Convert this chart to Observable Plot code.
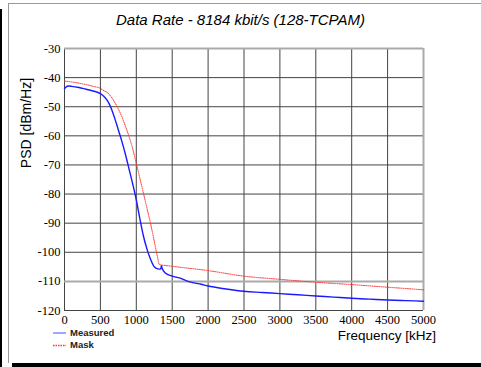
<!DOCTYPE html>
<html>
<head>
<meta charset="utf-8">
<script src="https://cdn.jsdelivr.net/npm/d3@7"></script>
<script src="https://cdn.jsdelivr.net/npm/@observablehq/plot@0.6"></script>
<style>
  html, body { margin: 0; padding: 0; background: #fff; }
  #wrap { position: relative; width: 481px; height: 367px; overflow: hidden; background: #fff; }
  .abs { position: absolute; white-space: nowrap; font-family: "Liberation Sans", Arial, sans-serif; color: #000; }
  #chart { position: absolute; left: 0; top: 0; }
  #chart svg text { font-family: "Liberation Serif", "Times New Roman", serif; }
</style>
</head>
<body>
<div id="wrap">
  <div class="abs" style="left:0;top:9px;width:2px;height:358px;background:#000"></div>
  <div class="abs" style="left:12px;top:363px;width:469px;height:4px;background:#000"></div>
  <div class="abs" style="left:8px;top:3px;width:480px;height:359px;border-left:1px solid #999;border-top:1px solid #999;"></div>
  <div id="chart"></div>
  <div class="abs" style="left:0;width:481px;top:11px;text-align:center;font-size:15px;font-style:italic;">Data Rate - 8184 kbit/s (128-TCPAM)</div>
  <div class="abs" style="left:26px;top:123px;font-size:14px;transform:translate(-50%,-50%) rotate(-90deg);">PSD [dBm/Hz]</div>
  <div class="abs" style="right:45px;top:328px;font-size:13.5px;">Frequency [kHz]</div>
  <div class="abs" style="left:70px;top:327px;font-size:9.5px;font-weight:bold;color:#222">Measured</div>
  <div class="abs" style="left:70px;top:339px;font-size:9.5px;font-weight:bold;color:#222">Mask</div>
</div>
<script>
const xTicks = [0, 500, 1000, 1500, 2000, 2500, 3000, 3500, 4000, 4500, 5000];
const yTicks = [-30, -40, -50, -60, -70, -80, -90, -100, -110, -120];

const measuredFreq = [0, 25, 50, 100, 200, 300, 400, 500, 550, 600, 650, 700, 750, 800, 850, 900, 950, 1000, 1050, 1100, 1150, 1200, 1250, 1300, 1340, 1350, 1360, 1400, 1500, 1600, 1700, 1800, 1900, 2000, 2250, 2500, 2750, 3000, 3250, 3500, 3750, 4000, 4250, 4500, 4750, 5000];
const measuredPSD = [-43.8, -43.2, -42.9, -43.0, -43.4, -44.0, -44.6, -45.5, -46.5, -48.0, -50.5, -54.0, -58.0, -62.0, -66.5, -71.5, -76.5, -82.0, -88.5, -94.5, -99.0, -102.5, -105.0, -105.7, -105.8, -104.6, -105.5, -107.0, -108.2, -108.8, -109.8, -110.5, -111.0, -111.6, -112.6, -113.4, -113.8, -114.2, -114.6, -115.0, -115.4, -115.8, -116.1, -116.4, -116.6, -116.8];

const maskFreq = [0, 100, 200, 300, 400, 500, 550, 600, 650, 700, 750, 800, 850, 900, 950, 1000, 1050, 1100, 1150, 1200, 1250, 1300, 1320, 1500, 2000, 2500, 3000, 3500, 4000, 4500, 5000];
const maskPSD = [-41.2, -41.5, -41.9, -42.4, -43.0, -43.7, -44.5, -45.2, -46.6, -48.5, -50.8, -53.5, -56.8, -60.3, -64.5, -69.5, -74.6, -79.8, -85.0, -90.3, -96.2, -102.2, -104.2, -104.8, -106.3, -108.2, -109.3, -110.3, -111.1, -112.0, -112.9];

const measured = measuredFreq.map((f, i) => ({f, v: measuredPSD[i]}));
const mask = maskFreq.map((f, i) => ({f, v: maskPSD[i]}));

const plot = Plot.plot({
  width: 481,
  height: 367,
  marginLeft: 64,
  marginRight: 58,
  marginTop: 48,
  marginBottom: 57,
  style: {fontFamily: "'Liberation Serif', 'Times New Roman', serif", fontSize: "12.5px", color: "#000", background: "transparent", overflow: "visible"},
  x: {domain: [0, 5000], ticks: xTicks, label: null, tickSize: 0, tickPadding: 5, tickFormat: d => String(d)},
  y: {domain: [-120, -30], ticks: yTicks, label: null, tickSize: 0, tickPadding: 4, tickFormat: d => String(d)},
  marks: [
    Plot.ruleX(xTicks.filter(d => d !== 5000), {stroke: "#444", strokeWidth: 1}),
    Plot.ruleY(yTicks.filter(d => d !== -30 && d !== -110), {stroke: "#444", strokeWidth: 1}),
    Plot.ruleY([-110], {stroke: "#aaa", strokeWidth: 2}),
    Plot.ruleY([-30], {stroke: "#aaa", strokeWidth: 2}),
    Plot.ruleX([5000], {stroke: "#aaa", strokeWidth: 2}),
    Plot.line(mask, {x: "f", y: "v", stroke: "#ff3030", strokeWidth: 1, strokeDasharray: "1,1.2", curve: "monotone-x"}),
    Plot.line(measured, {x: "f", y: "v", stroke: "#1a1aff", strokeWidth: 1.4, curve: "monotone-x"})
  ]
});
document.getElementById("chart").appendChild(plot);

// legend swatches
const svg = d3.select(plot);
const lg = svg.append("g");
lg.append("line").attr("x1", 53).attr("x2", 66).attr("y1", 333).attr("y2", 333).attr("stroke", "#4a4aff").attr("stroke-width", 1);
lg.append("line").attr("x1", 53).attr("x2", 66).attr("y1", 345.5).attr("y2", 345.5).attr("stroke", "#ff0000").attr("stroke-width", 1.3).attr("stroke-opacity", 0.8).attr("stroke-dasharray", "1.5,1");
</script>
</body>
</html>
